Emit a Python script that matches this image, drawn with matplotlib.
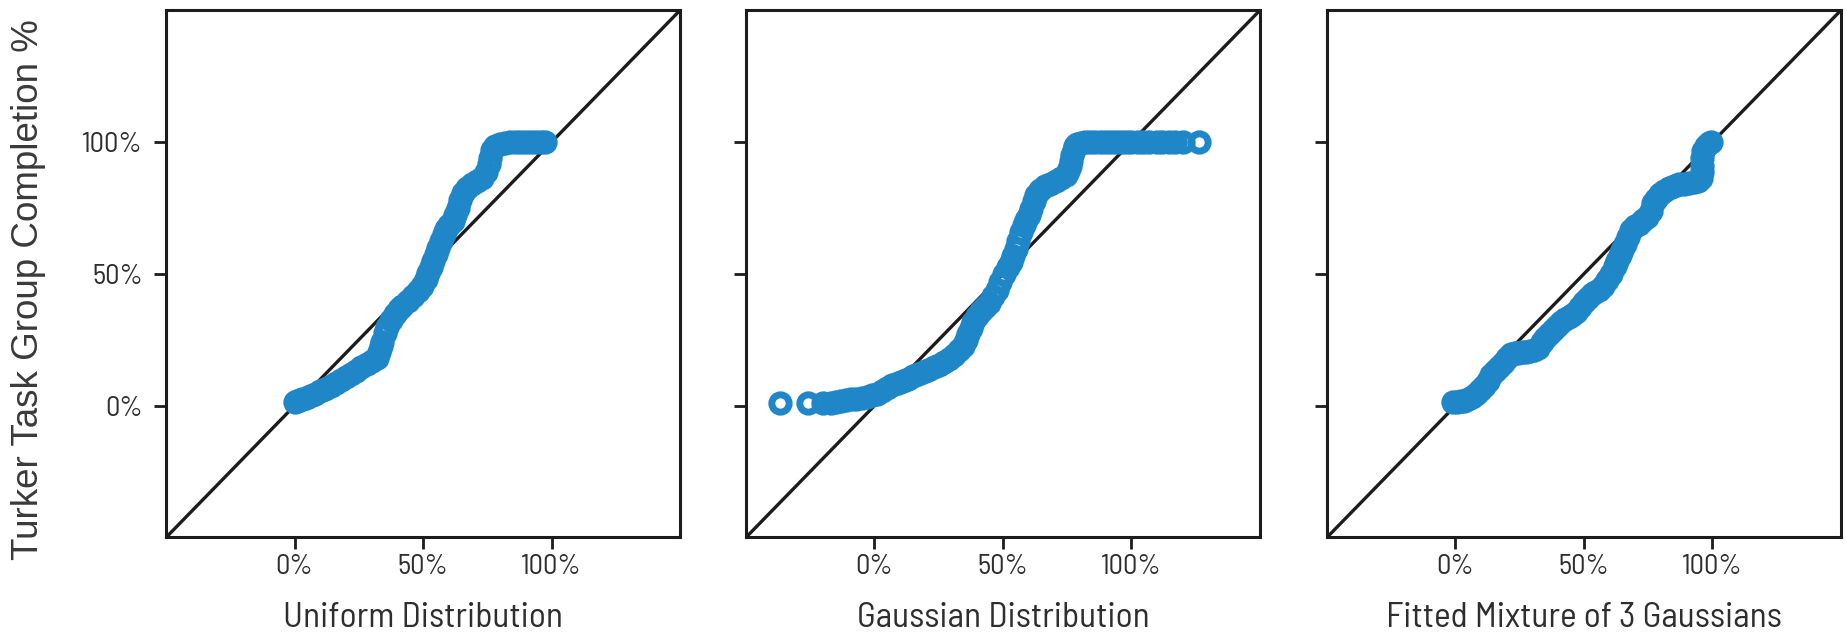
#-------------------------------------------------------------------------------
# Q-Q plots of Turker task group completion against three reference
# distributions (uniform, gaussian, fitted mixture of 3 gaussians)
#-------------------------------------------------------------------------------
import matplotlib.pyplot as plt

# Values in percent
uniform_x = [0, 1, 2, 3, 4.5, 6, 8, 10, 12, 14,
             16, 18, 20, 22, 24, 26, 28, 30, 32, 33,
             33.5, 34, 35, 36, 37.5, 39, 40.5, 42, 44, 46,
             48, 49.5, 51, 52, 53, 54, 55, 56, 57, 58,
             59, 60, 61.5, 62.5, 63.5, 64.5, 65.5, 67, 69, 71,
             73, 74.5, 75.5, 76, 77, 78, 80, 82, 84, 86,
             88, 90, 92, 94, 96, 97.5]
uniform_y = [1.5, 1.8, 2.2, 2.6, 3.1, 3.7, 4.4, 5.4, 6.4, 7.4,
             8.5, 9.7, 11, 12.2, 13.3, 14.5, 15.7, 16.8, 18, 20.5,
             22.5, 24, 27.5, 30, 32.5, 34.8, 36.5, 38, 39.7, 41.5,
             43.5, 45.5, 48, 50.5, 52.5, 54.8, 57.5, 60, 62.5, 65,
             67, 68.5, 70, 72.5, 75, 78, 80.8, 82.5, 84.2, 85.2,
             86.3, 88.5, 91.5, 94, 97, 98.5, 99.2, 99.6, 100, 100,
             100, 100, 100, 100, 100, 100]

gauss_x = [-36.7, -26, -20, -17, -15, -13, -11, -9, -7, -5,
           -3, -1, 1, 3, 5, 7, 9, 11, 13, 15,
           17, 19, 21, 23, 25, 27, 29, 31, 33, 34.5,
           35.5, 36.5, 37.5, 38.5, 40, 41.5, 43, 44.5, 46, 47.5,
           49, 50.5, 52, 53, 54, 55, 56, 57, 58, 59,
           60, 61, 62, 63, 64.5, 66.5, 68.5, 70.5, 72.5, 74.5,
           75.5, 76, 76.5, 77, 77.5, 78, 79, 80.5, 82, 84,
           86, 88, 90, 92, 94, 96, 98, 100, 102.5, 104.5,
           107, 110, 112, 114.6, 117, 120.2, 126.1]
gauss_y = [1, 1, 1, 1.2, 1.5, 1.8, 2.1, 2.4, 2.7, 3,
           3.4, 3.9, 4.6, 5.5, 6.6, 7.9, 8.6, 9.4, 10.2, 11.1,
           12, 12.9, 13.7, 14.5, 15.5, 16.5, 17.7, 19.2, 21, 22.8,
           25, 27.3, 29.5, 31.8, 34, 36, 37.5, 39, 41.5, 44,
           47, 49.8, 52.5, 54.5, 56.8, 59.5, 62.5, 66, 68.5, 70.5,
           72.5, 74.5, 77.5, 80, 82, 83.2, 84.1, 85.2, 86.3, 87.5,
           89, 91, 93, 95, 97, 98.5, 99.3, 99.6, 100, 100,
           100, 100, 100, 100, 100, 100, 100, 100, 100, 100,
           100, 100, 100, 100, 100, 100, 100]

mixture_x = [-1, 0.5, 2, 3.5, 5, 6.5, 8, 9.5, 11, 12.5,
             14, 15.5, 17, 18.5, 20, 21.5, 23, 24.5, 26, 27.5,
             29, 30.5, 32, 33.5, 35, 36.5, 38, 39.5, 41, 42.5,
             44, 45.5, 47, 48.5, 50, 51.5, 53, 54.5, 56, 57.5,
             59, 60.5, 62, 63, 64, 65, 66, 67, 68.5, 70,
             71.5, 73, 74.5, 76, 77, 78, 79.5, 81, 83, 85,
             87, 89, 91, 93, 94.5, 95.5, 96, 96, 96, 96.5,
             97.5, 98.5, 99.5]
mixture_y = [1.3, 1.5, 1.7, 1.9, 2.4, 3.3, 4.5, 5.8, 7.5, 9.5,
             11.5, 13, 14.5, 16, 18, 19.5, 19.8, 20, 20.2, 20.4,
             20.7, 21.2, 22, 24, 25.8, 27.3, 28.8, 30.3, 31.8, 32.8,
             33.7, 34.5, 35.5, 37.5, 39.3, 40.8, 42.2, 43, 43.8, 45.5,
             47.5, 50, 53, 55, 57, 59, 61.5, 64, 66.5, 68.3,
             69, 70.3, 71.5, 74, 77, 78.5, 80.3, 81.3, 82.6, 83.5,
             84.1, 84.1, 84.3, 84.8, 85.3, 86.5, 88.5, 91, 94, 96.5,
             98.5, 99.5, 100]

panels = [(uniform_x, uniform_y, 'Uniform Distribution'),
          (gauss_x, gauss_y, 'Gaussian Distribution'),
          (mixture_x, mixture_y, 'Fitted Mixture of 3 Gaussians')]

ticks = [0, 50, 100]
tick_labels = ['0%', '50%', '100%']

blue = '#1f87c8'
dark = '#1c1c1c'
text_color = '#2e2e2e'
narrow = ['Barlow Semi Condensed', 'DejaVu Sans']

#-------------------------------------------------------------------------------
fig = plt.figure(figsize=(18.45, 6.33), dpi=100)

lefts = [0.090, 0.4043, 0.7192]
for i, (xs, ys, label) in enumerate(panels):
    ax = fig.add_axes([lefts[i], 0.1509, 0.2786, 0.8329])

    # reference line y = x
    ax.plot([-50, 150], [-50, 150], color=dark, lw=2.4, zorder=1)
    # hollow circles
    ax.plot(xs, ys, 'o', mfc='none', mec=blue, ms=12.5, mew=5, zorder=2)

    ax.set_xlim(-50, 150)
    ax.set_ylim(-50, 150)
    ax.set_xticks(ticks)
    ax.set_yticks(ticks)
    ax.set_xticklabels(tick_labels, family=narrow, fontsize=20.5,
                       color=text_color)
    if i == 0:
        ax.set_yticklabels(tick_labels, family=narrow, fontsize=20.5,
                           color=text_color)
    else:
        ax.set_yticklabels([])
    ax.tick_params(axis='both', length=8.6, width=2, color=dark)
    ax.tick_params(axis='x', pad=3)
    ax.tick_params(axis='y', pad=8)

    ax.set_xlabel(label, family=narrow, fontsize=25.5,
                  color=text_color, va='baseline')
    ax.xaxis.set_label_coords(0.5, -0.169)

    for s in ax.spines.values():
        s.set_linewidth(2.2)
        s.set_color(dark)

fig.text(29 / 1845., 1 - 290 / 633., 'Turker Task Group Completion %',
         rotation=90, va='center', ha='center', fontsize=26.5,
         family=['Liberation Sans', 'DejaVu Sans'], color='#3a3a3a')

plt.savefig('out.png', dpi=100)
